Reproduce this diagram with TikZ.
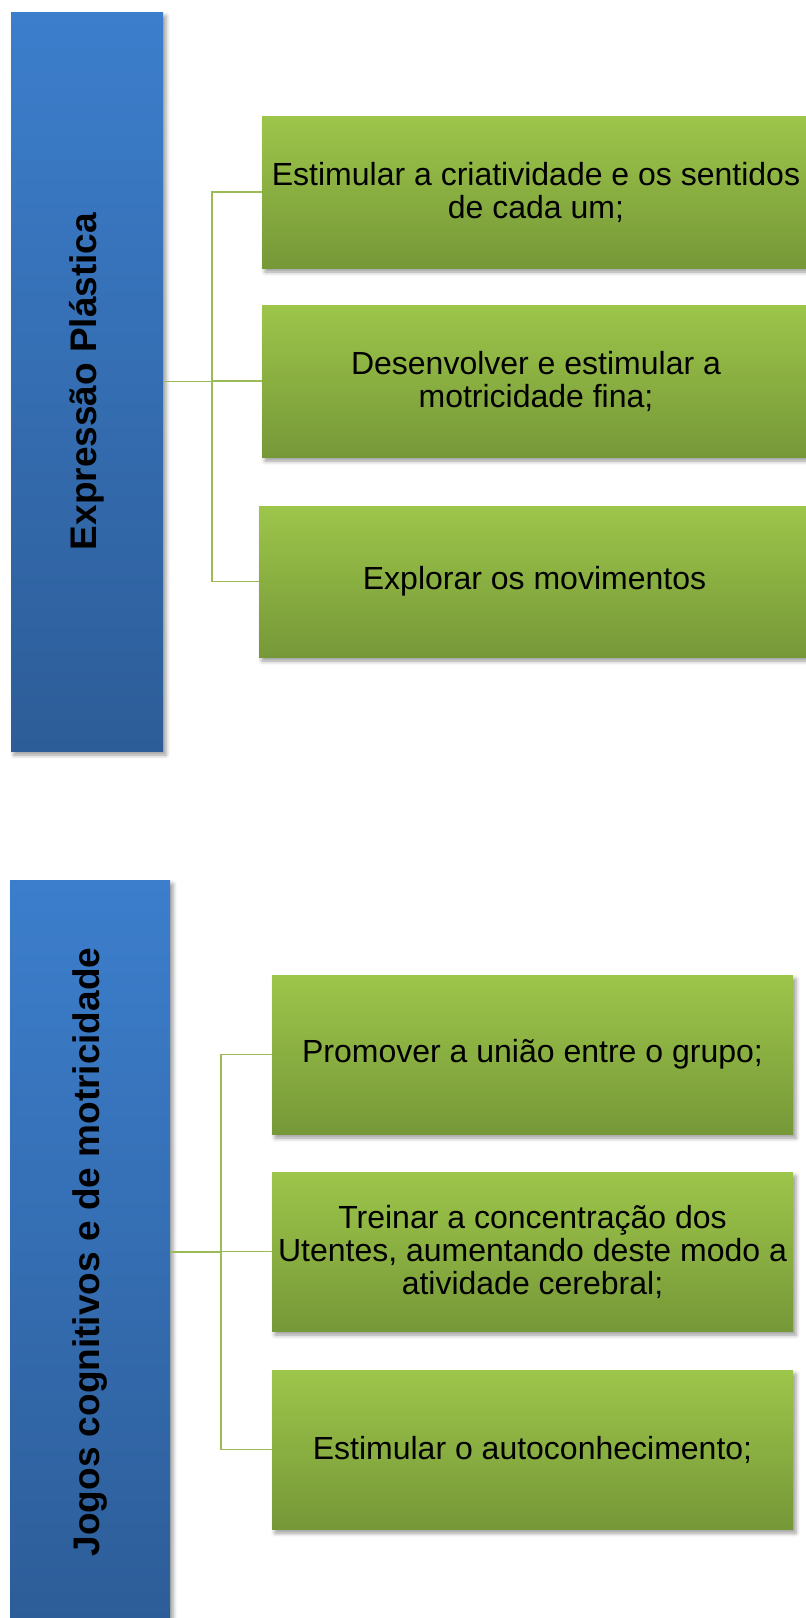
\documentclass[tikz,border=0pt]{standalone}
\usepackage{fontspec}
\setmainfont{Liberation Sans}
\usepackage{graphicx}
\usetikzlibrary{shadows.blur}

\definecolor{headtop}{HTML}{3C7ECC}
\definecolor{headbot}{HTML}{2D5D98}
\definecolor{itemtop}{HTML}{9DC54A}
\definecolor{itembot}{HTML}{769838}
\definecolor{linkgreen}{HTML}{9BBB59}

\tikzset{
  boxshadow/.style={blur shadow={shadow xshift=3pt, shadow yshift=-4pt, shadow blur radius=4pt, shadow opacity=40}},
  head/.style={rectangle, top color=headtop, bottom color=headbot, inner sep=0pt, boxshadow,
    font=\fontsize{37}{40}\selectfont\bfseries},
  item/.style={rectangle, top color=itemtop, bottom color=itembot, inner sep=0pt, align=center, boxshadow,
    font=\fontsize{32}{33}\selectfont},
  link/.style={draw=linkgreen, line width=1.5pt}
}

\begin{document}
\begin{tikzpicture}[x=1pt,y=-1pt]
            \useasboundingbox (0,0) rectangle (806,1618);

            % First group
            \node[head, minimum width=152pt, minimum height=739pt] (exp) at (87,381.5) {\rotatebox{90}{Expressão Plástica}};

            \node[item, minimum width=548pt, minimum height=152pt] (e1) at (536,192) {Estimular a criatividade e os sentidos\\de cada um;};
            \draw[link] (exp.east) -- ++(49,0) |- (e1.west);

            \node[item, minimum width=548pt, minimum height=152pt] (e2) at (536,381) {Desenvolver e estimular a\\motricidade fina;};
            \draw[link] (exp.east) -- ++(49,0) |- (e2.west);

            \node[item, minimum width=551pt, minimum height=151pt] (e3) at (534.5,581.5) {Explorar os movimentos};
            \draw[link] (exp.east) -- ++(49,0) |- (e3.west);

            % Second group
            \node[head, minimum width=160pt, minimum height=744pt] (jog) at (90,1252) {\rotatebox{90}{Jogos cognitivos e de motricidade}};

            \node[item, minimum width=521pt, minimum height=159pt] (j1) at (532.5,1054.5) {Promover a união entre o grupo;};
            \draw[link] (jog.east) -- ++(51,0) |- (j1.west);

            \node[item, minimum width=521pt, minimum height=159pt] (j2) at (532.5,1251.5) {Treinar a concentração dos\\Utentes, aumentando deste modo a\\atividade cerebral;};
            \draw[link] (jog.east) -- ++(51,0) |- (j2.west);

            \node[item, minimum width=521pt, minimum height=159pt] (j3) at (532.5,1449.5) {Estimular o autoconhecimento;};
            \draw[link] (jog.east) -- ++(51,0) |- (j3.west);
        \end{tikzpicture}
\end{document}
